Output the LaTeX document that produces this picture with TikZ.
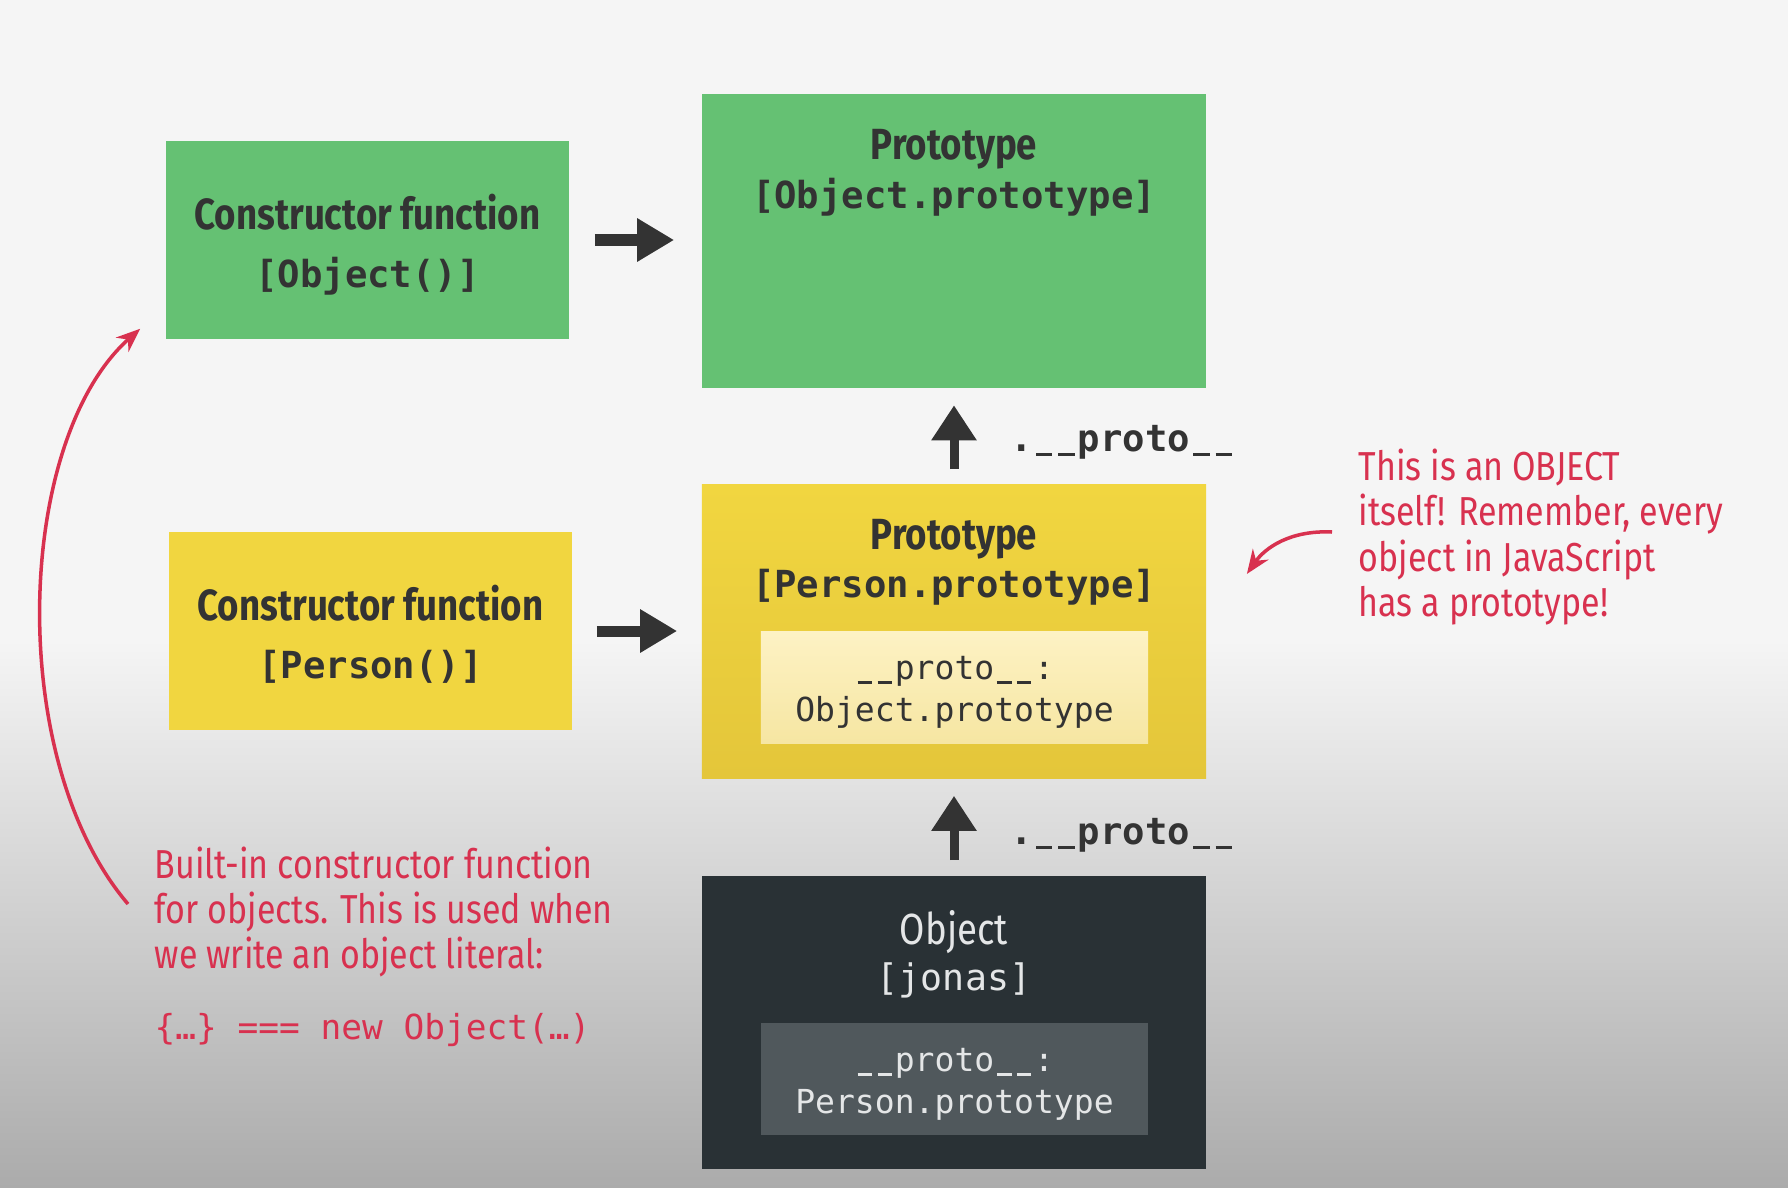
\documentclass[tikz,border=0pt]{standalone}
\usepackage{fontspec}
\setmainfont{Fira Sans}[FakeStretch=0.84]
\setmonofont{DejaVu Sans Mono}
\usepackage{tikz}
\usetikzlibrary{arrows.meta,positioning}
\definecolor{canvas}{HTML}{F5F5F5}
\definecolor{canvasdk}{HTML}{ABABAB}
\definecolor{leaf}{HTML}{65C173}
\definecolor{mustard}{HTML}{F1D640}
\definecolor{mustarddk}{HTML}{E4C63A}
\definecolor{cream}{HTML}{FDF2C4}
\definecolor{creamdk}{HTML}{F6E6A2}
\definecolor{slate}{HTML}{293135}
\definecolor{slatelt}{HTML}{50585C}
\definecolor{ink}{HTML}{333333}
\definecolor{chalk}{HTML}{E4E6E7}
\definecolor{crimson}{HTML}{D8314F}
\newcommand{\gapus}{\makebox[0.602em]{\rule[-0.13em]{0.44em}{0.085em}}}
\tikzset{
  ctorbox/.style={
    rectangle, fill=#1, inner sep=0pt,
    minimum width=4.03cm, minimum height=1.98cm
  },
  ctorbox/.default=leaf,
  protobox/.style={
    rectangle, fill=#1, inner sep=0pt,
    minimum width=5.04cm, minimum height=2.93cm
  },
  protobox/.default=leaf,
  slotbox/.style={rectangle, fill=#1, inner sep=0pt,
    minimum width=3.87cm, minimum height=1.11cm},
  slottext/.style={font=\fontsize{9.4}{11.9}\selectfont\ttfamily,
    align=center, inner sep=0pt, text=#1},
  headtext/.style={font=\fontsize{12.4}{14}\selectfont\bfseries,
    text=ink, inner sep=0pt},
  codetext/.style={font=\fontsize{10.6}{12}\selectfont\ttfamily\bfseries,
    text=ink, inner sep=0pt},
  notetext/.style={font=\fontsize{11.5}{12.9}\selectfont,
    text=crimson, align=left, inner sep=0pt},
  linkarrow/.style={
    -{Triangle[length=0.37cm,width=0.41cm]}, line width=0.11cm, draw=ink
  },
  protoarrow/.style={
    -{Triangle[length=0.35cm,width=0.43cm]}, line width=0.09cm, draw=ink
  },
  notearrow/.style={
    -{Stealth[length=0.24cm,width=0.19cm]}, line width=1pt, draw=crimson
  },
}
\begin{document}
\begin{tikzpicture}[x=0.01cm,y=-0.01cm]
\useasboundingbox (0,0) rectangle (1788,1188);
\fill[canvas] (0,0) rectangle (1788,1188);
\shade[top color=canvas, bottom color=canvasdk] (0,640) rectangle (1788,1188);

\node[ctorbox] (ctorobj) at (367.5,240) {};
\node[headtext] at ([yshift=0.28cm]ctorobj.center) {Constructor function};
\node[codetext] at ([yshift=-0.36cm]ctorobj.center) {[Object()]};

\node[protobox] (objproto) at (954,241) {};
\node[headtext] at ([yshift=-0.55cm]objproto.north) {Prototype};
\node[codetext] at ([yshift=-1.03cm]objproto.north) {[Object.prototype]};

\node[ctorbox=mustard] (ctorperson) at (370.5,631) {};
\node[headtext] at ([yshift=0.28cm]ctorperson.center) {Constructor function};
\node[codetext] at ([yshift=-0.36cm]ctorperson.center) {[Person()]};

\node[protobox, top color=mustard, bottom color=mustarddk] (personproto) at (954,631.5) {};
\node[headtext] at ([yshift=-0.55cm]personproto.north) {Prototype};
\node[codetext] at ([yshift=-1.03cm]personproto.north) {[Person.prototype]};
\node[slotbox, top color=cream, bottom color=creamdk] (personslot) at (954.5,687.5) {};
\node[slottext=ink] at ([yshift=-0.05cm]personslot.center) {\gapus\gapus proto\gapus\gapus:\\Object.prototype};

\node[protobox=slate] (jonas) at (954,1022.5) {};
\node[headtext, font=\fontsize{12.4}{14}\selectfont, text=chalk] at ([yshift=-0.57cm]jonas.north) {Object};
\node[codetext, font=\fontsize{10.4}{12}\selectfont\ttfamily, text=chalk] at ([yshift=-1.05cm]jonas.north) {[jonas]};
\node[slotbox=slatelt] (jonasslot) at (954.5,1079) {};
\node[slottext=chalk] at ([yshift=-0.05cm]jonasslot.center) {\gapus\gapus proto\gapus\gapus:\\Person.prototype};

\draw[linkarrow, shorten <=0.25cm, shorten >=0.27cm] (ctorobj.east) -- (ctorobj.east -| objproto.west);
\draw[linkarrow, shorten <=0.24cm, shorten >=0.24cm] (ctorperson.east) -- (ctorperson.east -| personproto.west);
\draw[protoarrow, shorten <=0.15cm, shorten >=0.17cm] (personproto.north) -- (objproto.south)
  node[midway, right=0.52cm, yshift=-0.06cm, codetext] {.\gapus\gapus proto\gapus\gapus};
\draw[protoarrow, shorten <=0.15cm, shorten >=0.17cm] (jonas.north) -- (personproto.south)
  node[midway, right=0.52cm, yshift=-0.08cm, codetext] {.\gapus\gapus proto\gapus\gapus};

\node[notetext, anchor=west] (protonote) at (1358,537) {This is an OBJECT\\itself! Remember, every\\object in JavaScript\\has a prototype!};
\node[notetext, anchor=west] (builtinnote) at (154,912) {Built-in constructor function\\for objects. This is used when\\we write an object literal:};
\node[notetext, font=\fontsize{9.8}{12}\selectfont\ttfamily, anchor=west] (literal) at (154,1030) {\{…\} === new Object(…)};

\coordinate (builtintail) at (128,904);
\coordinate (notetail) at (1332,532);
\draw[notearrow] (builtintail) .. controls (5,760) and (15,440) .. ([xshift=-0.25cm,yshift=0.11cm]ctorobj.south west);
\draw[notearrow] (notetail) .. controls (1290,530) and (1265,548) .. ([xshift=0.4cm,yshift=0.575cm]personproto.east);
\end{tikzpicture}
\end{document}
